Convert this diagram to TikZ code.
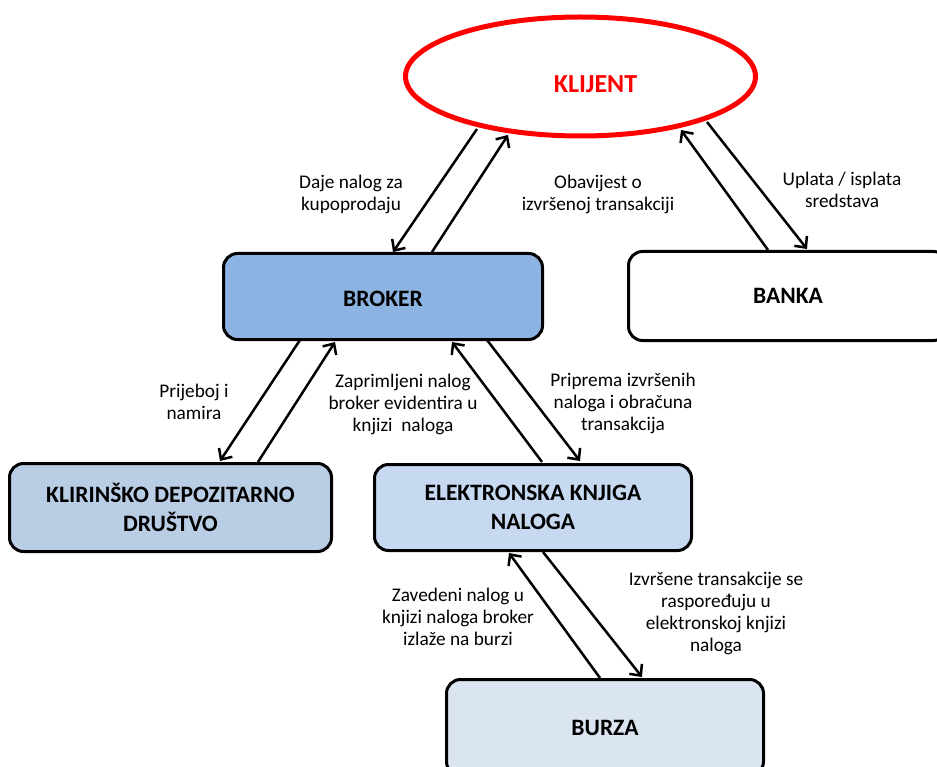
\documentclass[tikz,border=0pt]{standalone}
\usepackage{fontspec}
\setmainfont{Carlito}
\usetikzlibrary{arrows.meta,calc,shapes.geometric}
\definecolor{brokerfill}{HTML}{8DB3E2}
\definecolor{kddfill}{HTML}{B9CDE5}
\definecolor{eknfill}{HTML}{C6D9F1}
\definecolor{burzafill}{HTML}{DBE5F1}
\definecolor{kred}{HTML}{FF0000}
\begin{document}
\begin{tikzpicture}[x=1pt,y=-1pt,
 box/.style={draw=black,line width=3pt,rounded corners=14pt,font=\fontsize{23.5}{29}\selectfont\bfseries,align=center,inner sep=0pt},
 lbl/.style={font=\fontsize{19.3}{22}\selectfont,align=center,inner sep=0pt},
 conn/.style={line width=2.5pt,-{Straight Barb[length=8.5pt,width=16pt,line width=2.5pt]}}]
\useasboundingbox (0,0) rectangle (937,767);
\clip (0,0) rectangle (937,767);
\fill[white] (0,0) rectangle (937,767);

% nodes
\node[ellipse,draw=kred,line width=5pt,minimum width=350pt,minimum height=119pt,inner sep=0pt,
      font=\fontsize{26}{30}\selectfont\bfseries,text=kred] (klijent) at (580.5,76.5) {\hspace*{30pt}\raisebox{-16pt}[0pt][0pt]{KLIJENT}};
\node[box,fill=brokerfill,minimum width=319pt,minimum height=86pt] (broker) at (383,296.5) {\raisebox{-9.5pt}[0pt][0pt]{BROKER}};
\node[box,fill=white,minimum width=319pt,minimum height=89pt] (banka) at (788,296) {BANKA};
\node[box,fill=kddfill,minimum width=322pt,minimum height=88pt] (kdd) at (170.5,507.5) {KLIRINŠKO DEPOZITARNO\\DRUŠTVO};
\node[box,fill=eknfill,minimum width=317pt,minimum height=86pt] (ekn) at (533,507.5) {ELEKTRONSKA KNJIGA\\NALOGA};
\node[box,fill=burzafill,minimum width=317pt,minimum height=96pt] (burza) at (605,727.5) {BURZA};

% connector end points
\coordinate (k1) at (477,129);  \coordinate (b1) at (393,252);
\coordinate (b2) at (432,252);  \coordinate (k2) at (508,135);
\coordinate (n1) at (768,250);  \coordinate (k3) at (681,130);
\coordinate (k4) at (707,122);  \coordinate (n2) at (807,249);
\coordinate (b3) at (300,340);  \coordinate (d1) at (220,461);
\coordinate (d2) at (258,462);  \coordinate (b4) at (335,342);
\coordinate (e1) at (542,462);  \coordinate (b5) at (452,342);
\coordinate (b6) at (487,340);  \coordinate (e2) at (580,461);
\coordinate (u1) at (600,678);  \coordinate (e3) at (509,553);
\coordinate (e4) at (543,552);  \coordinate (u2) at (642,677);

% connectors
\draw[conn] (k1) -- (b1);
\draw[conn] (b2) -- (k2);
\draw[conn] (n1) -- (k3);
\draw[conn] (k4) -- (n2);
\draw[conn] (b3) -- (d1);
\draw[conn] (d2) -- (b4);
\draw[conn] (e1) -- (b5);
\draw[conn] (b6) -- (e2);
\draw[conn] (u1) -- (e3);
\draw[conn] (e4) -- (u2);

% labels
\node[lbl] (l1) at (351,194) {Daje nalog za\\kupoprodaju};
\node[lbl] (l2) at (598,194) {Obavijest o\\izvršenoj transakciji};
\node[lbl] (l3) at (842,190) {Uplata / isplata\\sredstava};
\node[lbl] (l4) at (194,402) {Prijeboj i\\namira};
\node[lbl] (l5) at (403,404) {Zaprimljeni nalog\\broker evidentira u\\knjizi~ naloga};
\node[lbl] (l6) at (623,403) {Priprema izvršenih\\naloga i obračuna\\transakcija};
\node[lbl] (l7) at (458,617) {Zavedeni nalog u\\knjizi naloga broker\\izlaže na burzi};
\node[lbl] (l8) at (716,613) {Izvršene transakcije se\\raspoređuju u\\elektronskoj knjizi\\naloga};
\end{tikzpicture}
\end{document}
